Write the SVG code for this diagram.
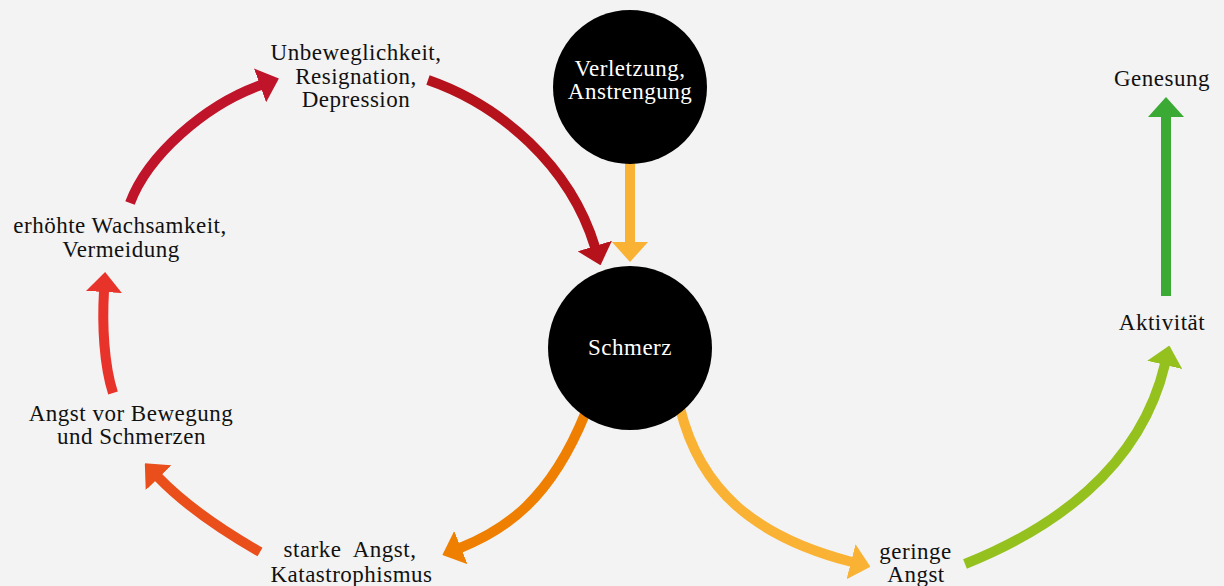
<svg xmlns="http://www.w3.org/2000/svg" width="1224" height="586" viewBox="0 0 1224 586">
<style>
  text { font-family: "Liberation Serif", Tinos, "Times New Roman", Times, "Noto Serif", "DejaVu Serif", FreeSerif, serif; font-size: 23px; letter-spacing: 0.5px; text-anchor: middle; fill: #111; }
  .w { fill: #ffffff; }
  .conn { fill: none; stroke-width: 10; stroke-linecap: butt; }
</style>
<defs>
  <marker id="m-darkred" markerUnits="userSpaceOnUse" viewBox="0 0 20 36" markerWidth="20" markerHeight="36" refX="1" refY="18" orient="auto"><path d="M0,0 L20,18 L0,36 Z" fill="#b5121b"/></marker>
  <marker id="m-crimson" markerUnits="userSpaceOnUse" viewBox="0 0 20 36" markerWidth="20" markerHeight="36" refX="1" refY="18" orient="auto"><path d="M0,0 L20,18 L0,36 Z" fill="#c0142a"/></marker>
  <marker id="m-red" markerUnits="userSpaceOnUse" viewBox="0 0 20 36" markerWidth="20" markerHeight="36" refX="1" refY="18" orient="auto"><path d="M0,0 L20,18 L0,36 Z" fill="#e8332a"/></marker>
  <marker id="m-orangered" markerUnits="userSpaceOnUse" viewBox="0 0 20 36" markerWidth="20" markerHeight="36" refX="1" refY="18" orient="auto"><path d="M0,0 L20,18 L0,36 Z" fill="#e94e1b"/></marker>
  <marker id="m-orange" markerUnits="userSpaceOnUse" viewBox="0 0 20 36" markerWidth="20" markerHeight="36" refX="1" refY="18" orient="auto"><path d="M0,0 L20,18 L0,36 Z" fill="#ef7f00"/></marker>
  <marker id="m-yellow" markerUnits="userSpaceOnUse" viewBox="0 0 20 36" markerWidth="20" markerHeight="36" refX="1" refY="18" orient="auto"><path d="M0,0 L20,18 L0,36 Z" fill="#f9b233"/></marker>
  <marker id="m-lime" markerUnits="userSpaceOnUse" viewBox="0 0 20 36" markerWidth="20" markerHeight="36" refX="1" refY="18" orient="auto"><path d="M0,0 L20,18 L0,36 Z" fill="#95c11f"/></marker>
  <marker id="m-green" markerUnits="userSpaceOnUse" viewBox="0 0 20 36" markerWidth="20" markerHeight="36" refX="1" refY="18" orient="auto"><path d="M0,0 L20,18 L0,36 Z" fill="#3aaa35"/></marker>
</defs>
<rect x="0" y="0" width="1224" height="586" fill="#f3f3f3"/>

<g id="connectors">
  <path class="conn" stroke="#b5121b" d="M428,80 C500,105 570,165 595,247" marker-end="url(#m-darkred)"/>
  <path class="conn" stroke="#f9b233" d="M630,162 L630,243" marker-end="url(#m-yellow)"/>
  <path class="conn" stroke="#ef7f00" d="M585,414 C550,500 505,530 460,548" marker-end="url(#m-orange)"/>
  <path class="conn" stroke="#e94e1b" d="M260,552 C225,532 185,505 158,477" marker-end="url(#m-orangered)"/>
  <path class="conn" stroke="#e8332a" d="M113,393 C104,365 102,325 104,291" marker-end="url(#m-red)"/>
  <path class="conn" stroke="#c0142a" d="M130,203 C148,155 205,105 261,85" marker-end="url(#m-crimson)"/>
  <path class="conn" stroke="#f9b233" d="M680,408 C700,490 755,537 852,562" marker-end="url(#m-yellow)"/>
  <path class="conn" stroke="#95c11f" d="M965,564 C1050,530 1140,470 1165,364" marker-end="url(#m-lime)"/>
  <path class="conn" stroke="#3aaa35" d="M1166,296 L1166,116" marker-end="url(#m-green)"/>
</g>

<g id="node-verletzung">
  <circle cx="630" cy="87" r="77" fill="#000"/>
  <text class="w" x="630" y="76">Verletzung,</text>
  <text class="w" x="630" y="99">Anstrengung</text>
</g>
<g id="node-schmerz">
  <circle cx="630" cy="348" r="82" fill="#000"/>
  <text class="w" x="630" y="355">Schmerz</text>
</g>
<g id="node-unbeweglichkeit">
  <text x="356" y="60">Unbeweglichkeit,</text>
  <text x="356" y="83.5">Resignation,</text>
  <text x="356" y="107">Depression</text>
</g>
<g id="node-wachsamkeit">
  <text x="120" y="233">erhöhte Wachsamkeit,</text>
  <text x="121" y="257">Vermeidung</text>
</g>
<g id="node-angst-bewegung">
  <text x="131" y="421">Angst vor Bewegung</text>
  <text x="131.5" y="444">und Schmerzen</text>
</g>
<g id="node-starke-angst">
  <text x="350" y="557" xml:space="preserve">starke  Angst,</text>
  <text x="351.5" y="582">Katastrophismus</text>
</g>
<g id="node-geringe-angst">
  <text x="915.5" y="559">geringe</text>
  <text x="916" y="582">Angst</text>
</g>
<g id="node-aktivitaet">
  <text x="1162" y="330">Aktivität</text>
</g>
<g id="node-genesung">
  <text x="1162" y="86">Genesung</text>
</g>
</svg>
